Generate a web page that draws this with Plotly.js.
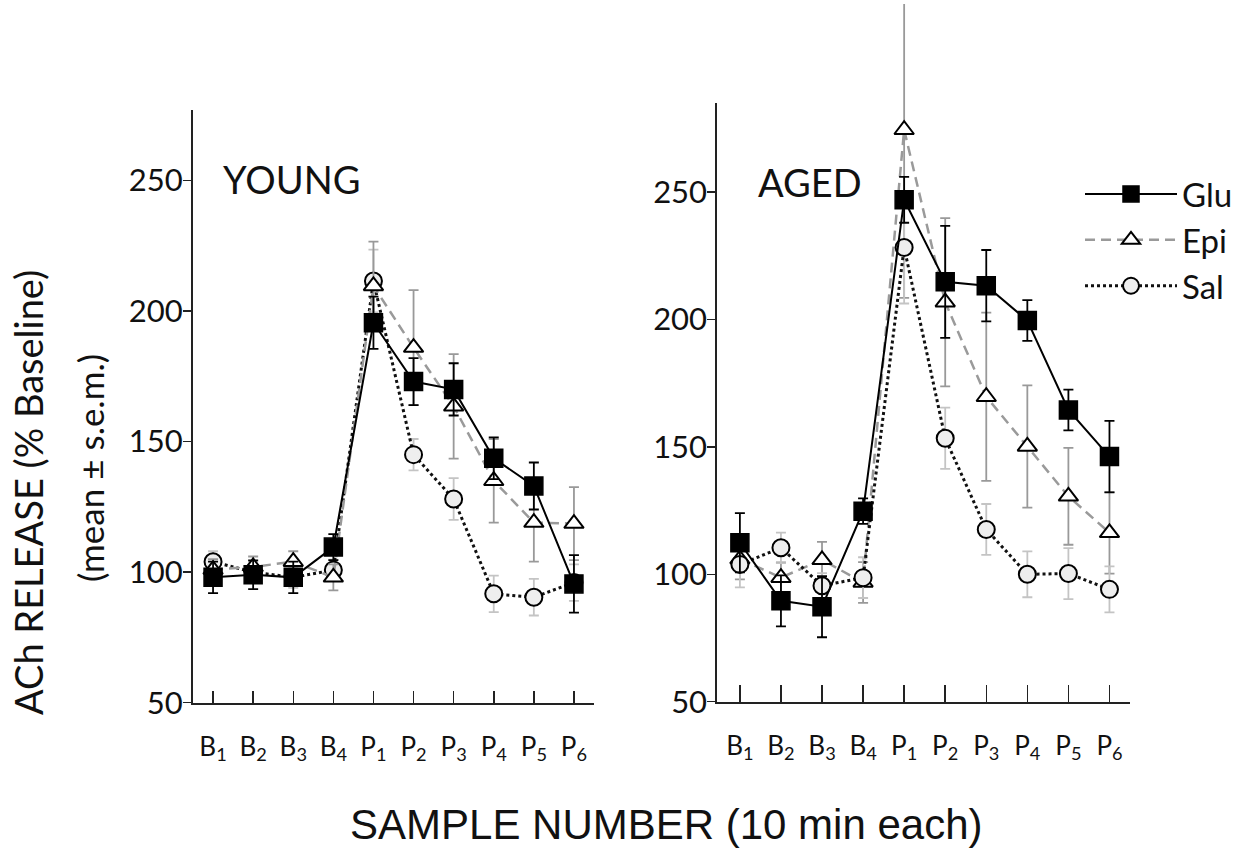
<!DOCTYPE html>
<html>
<head>
<meta charset="utf-8">
<script src="https://cdn.plot.ly/plotly-3.0.1.min.js"></script>
<style>html,body{margin:0;padding:0;background:#fff;}#chart{width:1255px;height:848px;}</style>
</head>
<body>
<div id="chart"></div>
<script>
// ---- data ----
const sampleIdx = [0, 1, 2, 3, 4, 5, 6, 7, 8, 9];
const sampleLabels = ['B<sub>1</sub>', 'B<sub>2</sub>', 'B<sub>3</sub>', 'B<sub>4</sub>', 'P<sub>1</sub>', 'P<sub>2</sub>', 'P<sub>3</sub>', 'P<sub>4</sub>', 'P<sub>5</sub>', 'P<sub>6</sub>'];
const yTicks = [50, 100, 150, 200, 250];

const youngGlu    = [98, 99, 98, 109.6, 195.5, 173, 170, 143.6, 133, 95.5];
const youngGluErr = [6, 5.5, 6, 5, 10, 9, 10, 8, 9, 11];
const youngEpi    = [101, 102, 104, 98, 209.6, 186, 163.5, 135, 119, 118.6];
const youngEpiErr = [4, 4, 4, 5, 17, 22, 20, 16, 15, 14];
const youngSal    = [104, 100, 98, 100.8, 211.5, 145, 128, 91.7, 90.4, 96];
const youngSalErr = [4, 4, 4, 4, 12, 6, 8, 7, 7, 7];

const agedGlu    = [112.4, 89.6, 87.3, 124.8, 247, 214.8, 213.3, 199.6, 164.5, 146.2];
const agedGluErr = [11.6, 10, 12, 5, 9, 22, 14, 8, 8, 14];
const agedEpi    = [106, 98.7, 105.7, 96.8, 274.5, 206.8, 169.7, 150.2, 130.6, 116.3];
const agedEpiErr = [8, 6, 7, 8, 66, 33, 33, 24, 19, 16];
const agedSal    = [103.9, 110.4, 95.5, 98.7, 228.3, 153.4, 117.6, 100, 100.3, 94.1];
const agedSalErr = [9, 6, 5, 8, 22, 12, 10, 9, 10, 9];

// ---- styles ----
const TXT = '#111';
const styles = {
  Glu: {
    line: {color: '#000', width: 2, dash: 'solid'},
    marker: {symbol: 'square', size: 18, color: '#000', line: {color: '#000', width: 1.5}},
    err: '#000'
  },
  Epi: {
    line: {color: '#9a9a9a', width: 2.5, dash: '10px,6px'},
    marker: {symbol: 'triangle-up', size: 17, color: '#fff', line: {color: '#000', width: 2}},
    err: '#999'
  },
  Sal: {
    line: {color: '#111', width: 3, dash: 'dot'},
    marker: {symbol: 'circle', size: 17, color: '#eeeeee', line: {color: '#000', width: 2}},
    err: '#c4c4c4'
  }
};

function mk(name, y, err, xa, ya, showleg, rank) {
  const s = styles[name];
  return {
    type: 'scatter', mode: 'lines+markers', name: name, legendgroup: name, legendrank: rank,
    x: sampleIdx, y: y, xaxis: xa, yaxis: ya, showlegend: showleg,
    line: s.line, marker: s.marker, cliponaxis: false,
    error_y: {type: 'data', array: err, visible: true, color: s.err, thickness: 1.8, width: 5}
  };
}

// Aged panel: visible axes are x3/y3; x2/y2 is a hidden twin with the same scale but a
// taller plot area, so the large Epi P1 error bar is not clipped.
const traces = [
  mk('Sal', youngSal, youngSalErr, 'x', 'y', false, 3),
  mk('Epi', youngEpi, youngEpiErr, 'x', 'y', false, 2),
  mk('Glu', youngGlu, youngGluErr, 'x', 'y', false, 1),
  mk('Epi', agedEpi, agedEpiErr, 'x2', 'y2', true, 2),
  mk('Sal', agedSal, agedSalErr, 'x3', 'y3', true, 3),
  mk('Glu', agedGlu, agedGluErr, 'x3', 'y3', true, 1)
];

const W = 1255, H = 848;
function xaxisCfg(domain, range, ticklen) {
  return {
    domain: domain, range: range, tickmode: 'array', tickvals: sampleIdx, ticktext: sampleLabels,
    ticks: 'inside', ticklen: ticklen, tickwidth: 1.5, tickcolor: '#222',
    showline: true, linewidth: 2, linecolor: '#222', showgrid: false, zeroline: false,
    tickfont: {family: 'Lato, sans-serif', size: 26, color: TXT}, ticklabelstandoff: 20,
    fixedrange: true
  };
}
function yaxisCfg(domain, range) {
  return {
    domain: domain, range: range, tickmode: 'array', tickvals: yTicks,
    ticks: 'outside', ticklen: 8, tickwidth: 1.5, tickcolor: '#222',
    showline: true, linewidth: 2, linecolor: '#222', showgrid: false, zeroline: false,
    tickfont: {family: 'Lato, sans-serif', size: 31, color: TXT}, ticklabelstandoff: -6,
    fixedrange: true
  };
}

// right panel scale
const yRBottom = 701.7, yRTop = 103, yRRange = [50, 285];
const pxPerUnitR = (yRBottom - yRTop) / (yRRange[1] - yRRange[0]);
const yTallTop = 4;
const yTallMax = yRRange[0] + (yRBottom - yTallTop) / pxPerUnitR;
const xRDomain = [717.3 / W, 1130 / W], xRRange = [-0.55, 9.5];

const layout = {
  width: W, height: H,
  margin: {l: 0, r: 0, t: 0, b: 0, pad: 0},
  paper_bgcolor: '#fff', plot_bgcolor: 'rgba(0,0,0,0)',
  showlegend: true,
  xaxis: Object.assign(xaxisCfg([193 / W, 594 / W], [-0.5, 9.5], 12), {anchor: 'y'}),
  yaxis: Object.assign(yaxisCfg([1 - 702.7 / H, 1 - 110 / H], [50, 277]), {anchor: 'x'}),
  xaxis2: {domain: xRDomain, range: xRRange, visible: false, anchor: 'y2', fixedrange: true},
  yaxis2: {domain: [1 - yRBottom / H, 1 - yTallTop / H], range: [yRRange[0], yTallMax], visible: false, anchor: 'x2', fixedrange: true},
  xaxis3: Object.assign(xaxisCfg(xRDomain, xRRange, 17), {anchor: 'y3'}),
  yaxis3: Object.assign(yaxisCfg([1 - yRBottom / H, 1 - yRTop / H], yRRange), {anchor: 'x3'}),
  legend: {
    x: 1080 / W, xanchor: 'left', y: 1 - 166 / H, yanchor: 'top',
    font: {family: 'Lato, sans-serif', size: 33, color: TXT},
    bgcolor: 'rgba(0,0,0,0)', itemwidth: 92, traceorder: 'normal', tracegroupgap: 4
  },
  annotations: [
    {text: 'YOUNG', xref: 'paper', yref: 'paper', x: 221 / W, y: 1 - 179 / H, xanchor: 'left', yanchor: 'middle',
     showarrow: false, font: {family: 'Lato, sans-serif', size: 38, color: TXT}},
    {text: 'AGED', xref: 'paper', yref: 'paper', x: 756 / W, y: 1 - 182 / H, xanchor: 'left', yanchor: 'middle',
     showarrow: false, font: {family: 'Lato, sans-serif', size: 38, color: TXT}},
    {text: 'ACh RELEASE (% Baseline)', xref: 'paper', yref: 'paper', x: 28 / W, y: 1 - 493 / H, textangle: -90,
     xanchor: 'center', yanchor: 'middle', showarrow: false, font: {family: 'Lato, sans-serif', size: 38, color: TXT}},
    {text: '(mean ± s.e.m.)', xref: 'paper', yref: 'paper', x: 90 / W, y: 1 - 468 / H, textangle: -90,
     xanchor: 'center', yanchor: 'middle', showarrow: false, font: {family: 'Lato, sans-serif', size: 35, color: TXT}},
    {text: 'SAMPLE NUMBER (10 min each)', xref: 'paper', yref: 'paper', x: 666 / W, y: 1 - 824 / H,
     xanchor: 'center', yanchor: 'middle', showarrow: false, font: {family: 'Liberation Sans, Arial, sans-serif', size: 42, color: TXT}}
  ]
};

Plotly.newPlot('chart', traces, layout, {displayModeBar: false, staticPlot: true});
</script>
</body>
</html>
